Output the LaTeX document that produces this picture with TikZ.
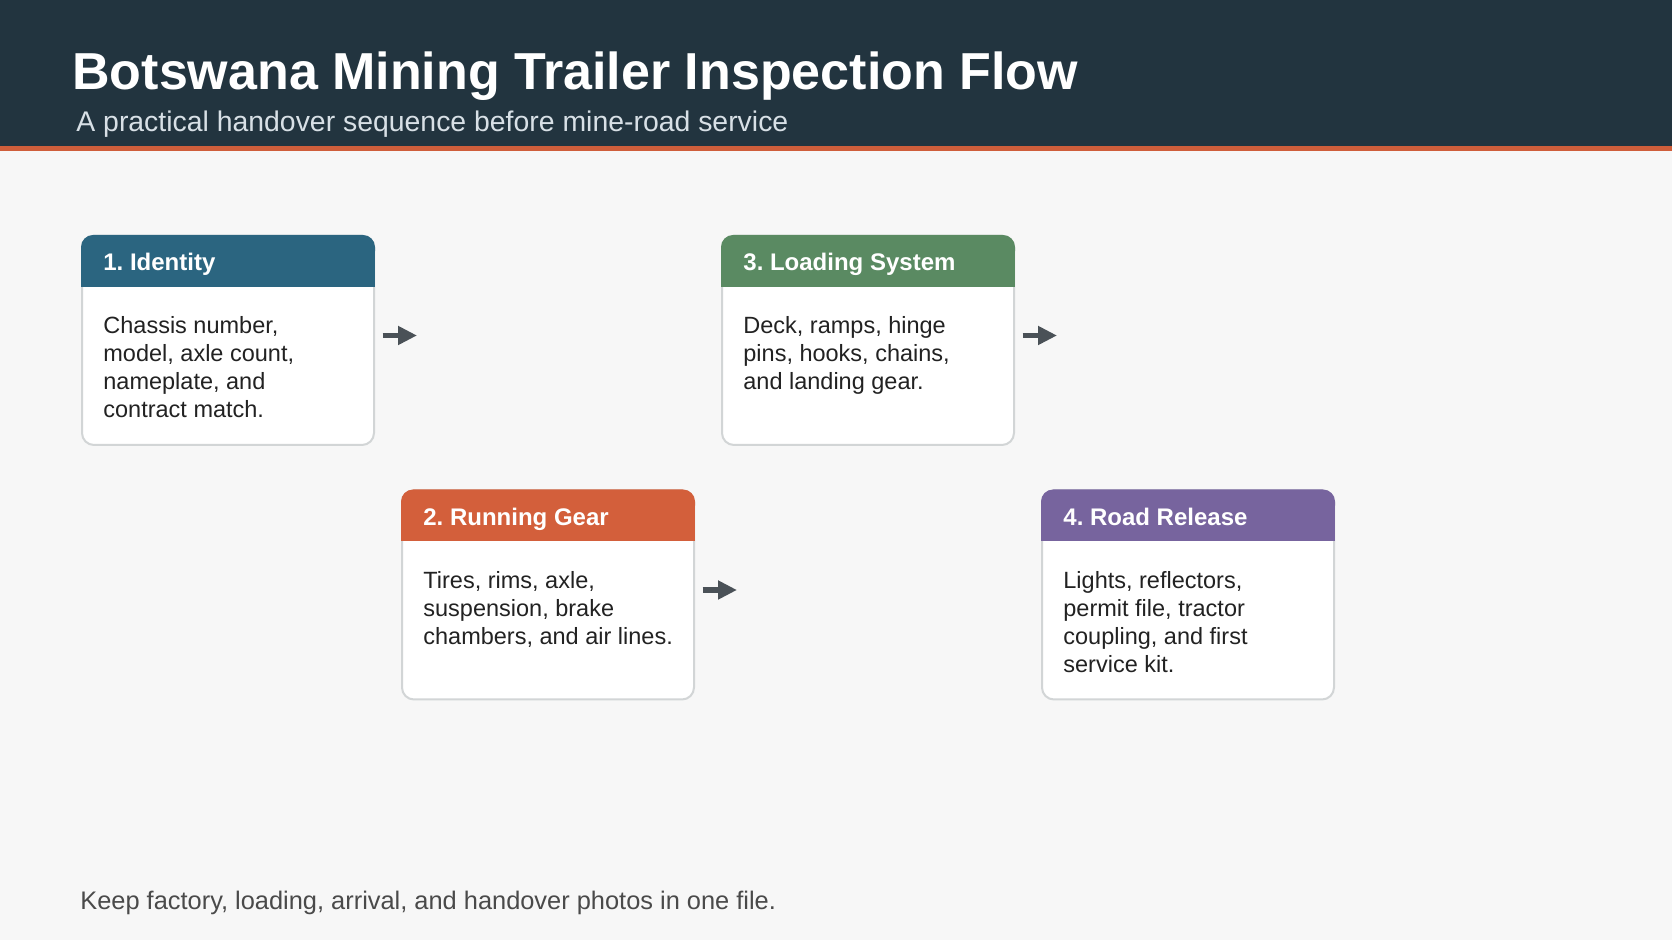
\documentclass[tikz,border=0pt]{standalone}
\usepackage{fontspec}
\setmainfont{Liberation Sans}
\usetikzlibrary{arrows.meta}

\definecolor{pagebg}{HTML}{F7F7F7}
\definecolor{bannerbg}{HTML}{22343F}
\definecolor{accentline}{HTML}{CF5E3B}
\definecolor{subtext}{HTML}{D8E0E6}
\definecolor{identityc}{HTML}{2B6580}
\definecolor{runningc}{HTML}{D35F3B}
\definecolor{loadingc}{HTML}{5A8A62}
\definecolor{releasec}{HTML}{77649E}
\definecolor{cardline}{HTML}{D2D5D6}
\definecolor{bodytext}{HTML}{222222}
\definecolor{notetext}{HTML}{4A4A4A}
\definecolor{arrowc}{HTML}{4A5157}

\tikzset{
  card/.style={draw=cardline, line width=1pt, fill=white, rounded corners=6pt,
    minimum width=146pt, minimum height=104.5pt, inner sep=0pt},
  cardtitle/.style={anchor=base west, inner sep=0pt, text=white,
    font=\fontsize{12}{14}\selectfont\bfseries},
  % base of a multi-line node = baseline of its last line
  cardbody/.style={anchor=base west, inner sep=0pt, align=left, text=bodytext,
    font=\fontsize{11.75}{14}\selectfont},
  flow/.style={-{Triangle[length=9.5pt,width=9pt]}, line width=2.75pt, draw=arrowc},
}

\begin{document}
\frenchspacing
\begin{tikzpicture}[x=0.5pt, y=-0.5pt]
  % page and banner (units: pixels of the 1672 x 940 slide)
  \fill[pagebg] (0,0) rectangle (1672,940);
  \useasboundingbox (0,0) rectangle (1672,940);
  \fill[bannerbg] (0,0) rectangle (1672,146);
  \fill[accentline] (0,146) rectangle (1672,151);

  % 1. titles
  \node[anchor=base west, inner sep=0pt, text=white, font=\fontsize{26}{30}\selectfont\bfseries]
    (title) at (72,90) {Botswana Mining Trailer Inspection Flow};
  \node[anchor=base west, inner sep=0pt, text=subtext, font=\fontsize{14.2}{17}\selectfont]
    (subtitle) at (76,132) {A practical handover sequence before mine-road service};

  % 2. cards (upper row: 1 and 3, lower row: 2 and 4)
  \node[card] (c1) at (228,340.5) {};
  \node[card] (c2) at (548,595) {};
  \node[card] (c3) at (868,340.5) {};
  \node[card] (c4) at (1188,595) {};

  % coloured heads, rounded on top only
  \fill[identityc, rounded corners=6pt] (c1.north west) rectangle ([yshift=-14pt]c1.north east);
  \fill[identityc] ([yshift=-8pt]c1.north west) rectangle ([yshift=-26pt]c1.north east);
  \fill[runningc, rounded corners=6pt] (c2.north west) rectangle ([yshift=-14pt]c2.north east);
  \fill[runningc] ([yshift=-8pt]c2.north west) rectangle ([yshift=-26pt]c2.north east);
  \fill[loadingc, rounded corners=6pt] (c3.north west) rectangle ([yshift=-14pt]c3.north east);
  \fill[loadingc] ([yshift=-8pt]c3.north west) rectangle ([yshift=-26pt]c3.north east);
  \fill[releasec, rounded corners=6pt] (c4.north west) rectangle ([yshift=-14pt]c4.north east);
  \fill[releasec] ([yshift=-8pt]c4.north west) rectangle ([yshift=-26pt]c4.north east);

  % 3. card texts (body nodes placed at the baseline of their last line)
  \node[cardtitle] (t1) at (103,271) {1. Identity};
  \node[cardbody] (b1) at (103,418) {Chassis number,\\model, axle count,\\nameplate, and\\contract match.};
  \node[cardtitle] (t2) at (423,525.5) {2. Running Gear};
  \node[cardbody] (b2) at (423,644.5) {Tires, rims, axle,\\suspension, brake\\chambers, and air lines.};
  \node[cardtitle] (t3) at (743,271) {3. Loading System};
  \node[cardbody] (b3) at (743,390) {Deck, ramps, hinge\\pins, hooks, chains,\\and landing gear.};
  \node[cardtitle] (t4) at (1063,525.5) {4. Road Release};
  \node[cardbody] (b4) at (1063,672.5) {Lights, reflectors,\\permit file, tractor\\coupling, and first\\service kit.};

  % 4. short arrows after cards 1-3
  \coordinate (a1) at (417,335.5);
  \coordinate (a2) at (737,590);
  \coordinate (a3) at (1057,335.5);
  \draw[flow] ([xshift=3.75pt,yshift=2.5pt]c1.east) -- (a1);
  \draw[flow] ([xshift=3.75pt,yshift=2.5pt]c2.east) -- (a2);
  \draw[flow] ([xshift=3.75pt,yshift=2.5pt]c3.east) -- (a3);

  % 5. footer note
  \node[anchor=base west, inner sep=0pt, text=notetext, font=\fontsize{12.7}{15}\selectfont]
    (note) at (80,909) {Keep factory, loading, arrival, and handover photos in one file.};
\end{tikzpicture}
\end{document}
